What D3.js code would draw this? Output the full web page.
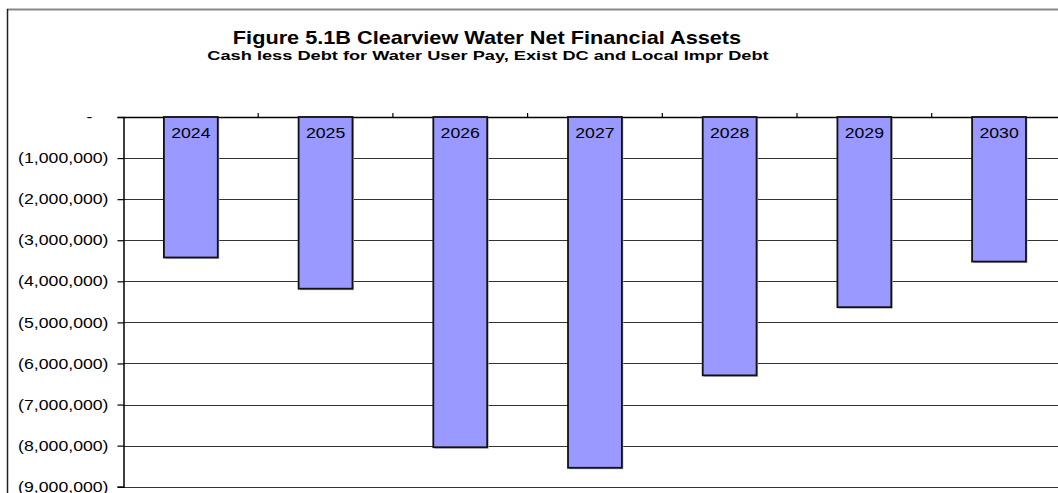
<!DOCTYPE html>
<html>
<head>
<meta charset="utf-8">
<script src="https://cdn.jsdelivr.net/npm/d3@7"></script>
<style>
  html, body { margin: 0; padding: 0; background: #fff; }
  svg { display: block; font-family: "Liberation Sans", Arial, sans-serif; }
</style>
</head>
<body>
<svg id="chart" width="1058" height="493"></svg>
<script>
// Net financial assets (cash less debt) by year
const years = ["2024", "2025", "2026", "2027", "2028", "2029", "2030"];
const netAssets = [-3420000, -4180000, -8040000, -8540000, -6290000, -4630000, -3520000];
const yTicks = [0, -1000000, -2000000, -3000000, -4000000, -5000000, -6000000, -7000000, -8000000, -9000000];

const titleText = "Figure 5.1B Clearview Water Net Financial Assets";
const subtitleText = "Cash less Debt for Water User Pay, Exist DC and Local Impr Debt";

const svg = d3.select("#chart");
const W = 1058, H = 493;
const stretch = 1.22; // wide lettering

// frame around the chart area
svg.append("line").attr("x1", 7).attr("x2", W).attr("y1", 9.5).attr("y2", 9.5)
  .attr("stroke", "#888").attr("stroke-width", 2);
svg.append("line").attr("x1", 7.5).attr("x2", 7.5).attr("y1", 9).attr("y2", H)
  .attr("stroke", "#222").attr("stroke-width", 1.5);

const plot = { left: 123.5, top: 117, bottom: 486.7 };
const band = 134.7;
const plotRight = plot.left + band * years.length;

const x = d3.scaleBand().domain(years).range([plot.left, plotRight]).paddingInner(0.6).paddingOuter(0.3);
const y = d3.scaleLinear().domain([0, -9000000]).range([plot.top, plot.bottom]);

// horizontal gridlines
svg.append("g").selectAll("line").data(yTicks.slice(1)).join("line")
  .attr("x1", plot.left).attr("x2", W)
  .attr("y1", d => Math.round(y(d)) + 0.5).attr("y2", d => Math.round(y(d)) + 0.5)
  .attr("stroke", "#333").attr("stroke-width", 1.2);

// y axis with bracketed negatives, zero shown as a dash
const fmt = d => d === 0 ? "-" : "(" + d3.format(",")(Math.abs(d)) + ")";
const yAxis = svg.append("g").attr("transform", `translate(${plot.left},0)`)
  .call(d3.axisLeft(y).tickValues(yTicks).tickFormat(fmt).tickSize(6).tickPadding(9));
yAxis.select(".domain").attr("stroke", "#000").attr("stroke-width", 1.5);
yAxis.selectAll(".tick line").attr("stroke", "#000").attr("stroke-width", 1.2);
yAxis.selectAll(".tick text").attr("font-size", 14.5).attr("fill", "#000")
  .attr("font-family", "'Liberation Sans', Arial, sans-serif")
  .attr("transform", `scale(${stretch},1)`)
  .attr("x", d => (d === 0 ? -31 : -15) / stretch);

// category axis along the zero line, ticks pointing up
const cats = svg.append("g");
cats.append("line").attr("x1", plot.left).attr("x2", W)
  .attr("y1", plot.top + 0.5).attr("y2", plot.top + 0.5)
  .attr("stroke", "#000").attr("stroke-width", 1.5);
cats.selectAll("line.cat").data(d3.range(1, years.length)).join("line").attr("class", "cat")
  .attr("x1", i => plot.left + band * i).attr("x2", i => plot.left + band * i)
  .attr("y1", plot.top).attr("y2", plot.top - 4)
  .attr("stroke", "#000").attr("stroke-width", 1.2);

// bars with a soft shadow
const bars = svg.append("g");
bars.selectAll("rect.shadow").data(years).join("rect").attr("class", "shadow")
  .attr("x", d => x(d) + 1.5).attr("y", plot.top + 1.5)
  .attr("width", x.bandwidth())
  .attr("height", (d, i) => y(netAssets[i]) - plot.top)
  .attr("fill", "#bbb");
bars.selectAll("rect.bar").data(years).join("rect").attr("class", "bar")
  .attr("x", d => x(d)).attr("y", plot.top)
  .attr("width", x.bandwidth())
  .attr("height", (d, i) => y(netAssets[i]) - plot.top)
  .attr("fill", "#9999FF").attr("stroke", "#111").attr("stroke-width", 1.8);

// year labels inside bars
bars.selectAll("text").data(years).join("text")
  .attr("transform", d => `translate(${x(d) + x.bandwidth() / 2},${plot.top + 21}) scale(${stretch},1)`)
  .attr("text-anchor", "middle").attr("font-size", 14.5).attr("fill", "#000")
  .text(d => d);

// titles
svg.append("text").attr("transform", "translate(487,44) scale(1.24,1)").attr("text-anchor", "middle")
  .attr("font-size", 17.5).attr("font-weight", "bold").text(titleText);
svg.append("text").attr("transform", "translate(488,59.5) scale(1.35,1)").attr("text-anchor", "middle")
  .attr("font-size", 13.5).attr("font-weight", "bold").text(subtitleText);
</script>
</body>
</html>
